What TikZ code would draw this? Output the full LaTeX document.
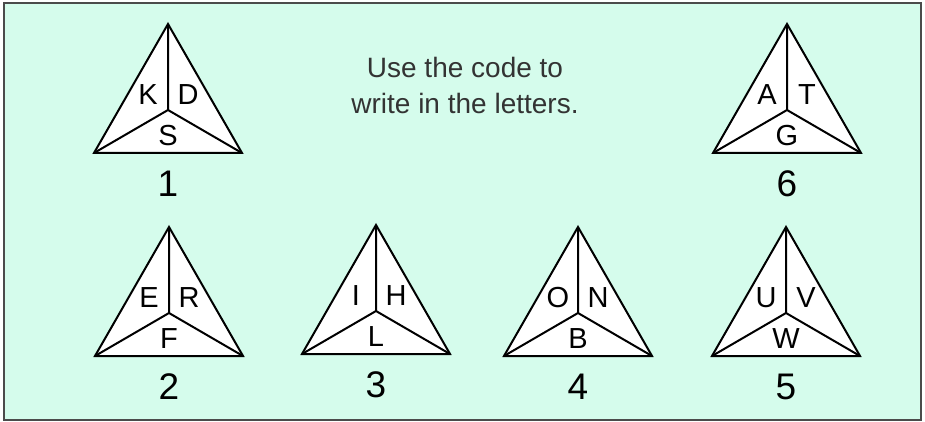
\documentclass[tikz,border=0pt]{standalone}
\usepackage{fontspec}
\setmainfont{Liberation Sans}
\usetikzlibrary{positioning}
\definecolor{mint}{RGB}{213,252,236}
\definecolor{framegray}{RGB}{75,75,75}

\begin{document}
\begin{tikzpicture}[x=1pt, y=-1pt,
  every node/.style={inner sep=0pt},
  letter/.style={font=\fontsize{29}{29}\selectfont},
  numlabel/.style={font=\fontsize{37}{37}\selectfont},
  tri/.style={line width=2pt, black}]

%% ── Canvas: 1pt = 1px, y grows downwards ─────────────────────────────────────
\useasboundingbox (0,0) rectangle (925,422);
\fill[white] (0,0) rectangle (925,422);

%% ── Frame ────────────────────────────────────────────────────────────────────
\draw[framegray, line width=2pt, fill=mint] (4,3) rectangle (921,420);

%% ── Instruction ──────────────────────────────────────────────────────────────
\node[font=\fontsize{28}{36}\selectfont, text=black!80, align=center]
  (instr) at (465,85) {Use the code to\\write in the letters.};

%% ── Code triangles ───────────────────────────────────────────────────────────
% cx = apex x, ty = apex y; width 148, height 129, centre at ty+86
\foreach \cx/\ty/\la/\lb/\lc/\idx in {168/24/K/D/S/1, 787/24/A/T/G/6,
    169/227/E/R/F/2, 376/225/I/H/L/3, 578/227/O/N/B/4, 786/227/U/V/W/5}{
  \coordinate (apex\idx) at (\cx,\ty);
  \coordinate (bl\idx)   at (\cx-74,\ty+129);
  \coordinate (br\idx)   at (\cx+74,\ty+129);
  \coordinate (mid\idx)  at (\cx,\ty+86);
  \draw[tri, fill=white] (apex\idx) -- (bl\idx) -- (br\idx) -- cycle;
  \draw[tri] (apex\idx) -- (mid\idx) (bl\idx) -- (mid\idx) -- (br\idx);
  \node[letter] (left\idx)  at (\cx-20,\ty+71)  {\la};
  \node[letter] (right\idx) at (\cx+20,\ty+71)  {\lb};
  \node[letter] (low\idx)   at (\cx,\ty+112)    {\lc};
  \node[numlabel] (num\idx) at (\cx,\ty+160)    {\idx};
}

\end{tikzpicture}
\end{document}
